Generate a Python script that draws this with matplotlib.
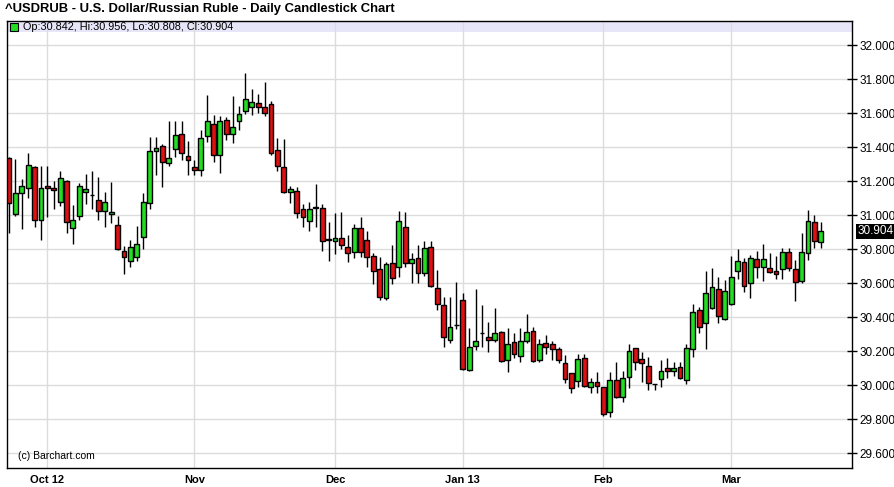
import numpy as np
import matplotlib
matplotlib.use("Agg")
import matplotlib.pyplot as plt
from matplotlib.patches import Rectangle

plt.rcParams['font.family'] = ['Liberation Sans', 'DejaVu Sans']

# DATA (daily OHLC)
opens = [31.334, 31.004, 31.128, 31.157, 31.281, 30.971, 31.169, 31.157, 31.075, 31.198,
         30.922, 30.992, 31.134, 31.118, 31.086, 31.022, 31.006, 30.939, 30.786, 30.729,
         30.755, 30.872, 31.069, 31.376, 31.404, 31.304, 31.386, 31.475, 31.349, 31.284,
         31.265, 31.465, 31.534, 31.353, 31.557, 31.476, 31.555, 31.612, 31.637, 31.657,
         31.637, 31.651, 31.382, 31.284, 31.137, 31.143, 31.034, 30.966, 31.039, 31.039,
         30.853, 30.847, 30.863, 30.814, 30.784, 30.922, 30.853, 30.761, 30.681, 30.514,
         30.716, 30.692, 30.928, 30.716, 30.745, 30.657, 30.810, 30.569, 30.469, 30.265,
         30.351, 30.500, 30.088, 30.229, 30.304, 30.284, 30.265, 30.314, 30.147, 30.255,
         30.171, 30.261, 30.319, 30.147, 30.245, 30.239, 30.210, 30.128, 30.069, 30.024,
         30.157, 29.990, 30.016, 29.986, 29.839, 30.029, 29.931, 30.049, 30.216, 30.151,
         30.112, 30.004, 30.034, 30.098, 30.084, 30.104, 30.029, 30.210, 30.441, 30.367,
         30.451, 30.563, 30.386, 30.475, 30.672, 30.725, 30.598, 30.741, 30.692, 30.690,
         30.671, 30.681, 30.781, 30.681, 30.612, 30.775, 30.961, 30.842]
highs = [31.341, 31.329, 31.210, 31.366, 31.290, 31.288, 31.288, 31.200, 31.257, 31.206,
         31.059, 31.190, 31.241, 31.261, 31.225, 31.137, 31.194, 30.994, 30.818, 30.853,
         30.935, 31.128, 31.461, 31.457, 31.416, 31.553, 31.553, 31.553, 31.435, 31.324,
         31.500, 31.706, 31.588, 31.582, 31.578, 31.700, 31.641, 31.834, 31.739, 31.710,
         31.781, 31.672, 31.451, 31.447, 31.172, 31.166, 31.065, 31.078, 31.182, 31.065,
         30.957, 31.014, 31.016, 30.882, 30.945, 30.986, 30.908, 30.776, 30.755, 30.725,
         30.824, 31.024, 31.019, 30.778, 30.824, 30.847, 30.847, 30.676, 30.519, 30.516,
         30.604, 30.539, 30.334, 30.563, 30.471, 30.369, 30.451, 30.318, 30.337, 30.304,
         30.334, 30.416, 30.343, 30.269, 30.294, 30.261, 30.225, 30.176, 30.071, 30.180,
         30.180, 30.043, 30.078, 29.988, 30.078, 30.137, 30.084, 30.239, 30.218, 30.196,
         30.167, 30.008, 30.147, 30.157, 30.137, 30.133, 30.241, 30.476, 30.457, 30.672,
         30.686, 30.633, 30.618, 30.759, 30.798, 30.749, 30.765, 30.788, 30.829, 30.775,
         30.759, 30.808, 30.804, 30.735, 30.892, 31.029, 31.000, 30.956]
lows = [30.896, 30.994, 30.918, 31.098, 30.928, 30.853, 30.990, 31.035, 31.053, 30.896,
        30.828, 30.971, 31.063, 31.034, 30.971, 30.931, 30.955, 30.794, 30.651, 30.692,
        30.731, 30.798, 31.034, 31.235, 31.166, 31.288, 31.343, 31.324, 31.235, 31.235,
        31.229, 31.431, 31.314, 31.245, 31.441, 31.422, 31.500, 31.594, 31.588, 31.598,
        31.584, 31.353, 31.261, 31.129, 31.072, 30.981, 30.931, 30.908, 30.931, 30.790,
        30.731, 30.771, 30.798, 30.725, 30.745, 30.755, 30.692, 30.592, 30.500, 30.500,
        30.594, 30.637, 30.692, 30.598, 30.602, 30.641, 30.579, 30.441, 30.225, 30.245,
        30.328, 30.088, 30.082, 30.206, 30.225, 30.192, 30.255, 30.135, 30.078, 30.157,
        30.137, 30.249, 30.135, 30.133, 30.182, 30.147, 30.128, 30.014, 29.951, 29.990,
        29.987, 29.951, 29.951, 29.818, 29.810, 29.922, 29.898, 29.981, 30.088, 30.020,
        29.971, 29.971, 29.987, 30.039, 30.053, 30.035, 30.004, 30.166, 30.308, 30.212,
        30.447, 30.367, 30.382, 30.471, 30.624, 30.549, 30.514, 30.631, 30.614, 30.659,
        30.622, 30.622, 30.672, 30.496, 30.602, 30.735, 30.804, 30.808]
closes = [31.069, 31.128, 31.172, 31.292, 30.971, 31.161, 31.157, 31.145, 31.216, 30.957,
          30.971, 31.169, 31.151, 31.120, 31.025, 31.076, 31.018, 30.798, 30.751, 30.810,
          30.828, 31.075, 31.376, 31.396, 31.310, 31.334, 31.469, 31.363, 31.324, 31.265,
          31.451, 31.553, 31.353, 31.553, 31.476, 31.516, 31.594, 31.681, 31.666, 31.637,
          31.598, 31.363, 31.290, 31.137, 31.153, 31.010, 30.986, 31.037, 31.049, 30.847,
          30.861, 30.867, 30.824, 30.775, 30.922, 30.784, 30.751, 30.671, 30.516, 30.714,
          30.631, 30.965, 30.716, 30.739, 30.657, 30.804, 30.582, 30.476, 30.281, 30.339,
          30.353, 30.094, 30.225, 30.261, 30.306, 30.265, 30.308, 30.139, 30.239, 30.182,
          30.261, 30.314, 30.139, 30.241, 30.222, 30.212, 30.147, 30.034, 29.981, 30.151,
          29.996, 30.020, 29.994, 29.828, 30.029, 29.931, 30.039, 30.202, 30.134, 30.128,
          30.010, 30.006, 30.082, 30.084, 30.098, 30.039, 30.216, 30.431, 30.339, 30.539,
          30.575, 30.408, 30.553, 30.633, 30.731, 30.584, 30.749, 30.692, 30.741, 30.663,
          30.653, 30.781, 30.686, 30.604, 30.781, 30.966, 30.847, 30.904]

month_labels = ["Oct 12", "Nov", "Dec", "Jan 13", "Feb", "Mar"]
month_index = [6, 29, 51, 71, 93, 113]   # first trading day of each month
price_ticks = [29.6, 29.8, 30.0, 30.2, 30.4, 30.6, 30.8, 31.0, 31.2, 31.4, 31.6, 31.8, 32.0]

title = "^USDRUB - U.S. Dollar/Russian Ruble - Daily Candlestick Chart"

GREEN = "#22dd22"
RED = "#dd1111"

o = np.array(opens)
h = np.array(highs)
l = np.array(lows)
c = np.array(closes)
x = np.arange(len(o))

fig = plt.figure(figsize=(8.95, 4.87), dpi=100)
ax = fig.add_axes([7/895, 19/487, 845/895, 447/487])

# grid
ax.set_yticks(price_ticks)
ax.set_xticks(month_index)
ax.grid(True, color="#dcdcdc", linewidth=1)
ax.set_axisbelow(True)

# candles
up = c >= o
ax.vlines(x, l, h, color="black", linewidth=1, zorder=3)
body_low = np.minimum(o, c)
body_h = np.maximum(np.abs(c - o), 0.001)
ax.bar(x, body_h, bottom=body_low, width=0.75,
       color=np.where(up, GREEN, RED), edgecolor="black", linewidth=1, zorder=4)

ax.set_xlim(-0.31, 131.9)
ax.set_ylim(29.5118, 32.1412)

# right axis
ax.yaxis.tick_right()
ax.set_yticklabels(["%.3f" % t for t in price_ticks])
ax.tick_params(axis="y", direction="inout", length=7, width=1, labelsize=8.5, pad=2)
ax.set_xticklabels(month_labels, fontweight="bold")
ax.tick_params(axis="x", length=0, labelsize=8, pad=5)
for s in ax.spines.values():
    s.set_color("black")
    s.set_linewidth(1)

# legend band at the top of the plot
band_h = 11/447
ax.add_patch(Rectangle((0, 1 - band_h), 1, band_h, transform=ax.transAxes,
                       facecolor="#e6e6f8", edgecolor="none", zorder=0.5))
ax.plot([0.0078], [1 - band_h/2], marker="s", markersize=6, markerfacecolor=GREEN,
        markeredgecolor="black", markeredgewidth=0.8, transform=ax.transAxes, zorder=6)
ax.text(0.019, 1 - band_h/2, "Op:%.3f, Hi:%.3f, Lo:%.3f, Cl:%.3f" % (o[-1], h[-1], l[-1], c[-1]),
        transform=ax.transAxes, fontsize=7.8, va="center", ha="left", zorder=6)

# last close label
ax.text(1.006, c[-1], "%.3f" % c[-1], transform=ax.get_yaxis_transform(),
        fontsize=8.5, color="white", va="center", ha="left",
        bbox=dict(facecolor="black", edgecolor="none", pad=1.0))

ax.text(0.013, 0.027, "(c) Barchart.com", transform=ax.transAxes, fontsize=7.5,
        va="center", ha="left")

fig.text(5/895, 1 - 9/487, title, fontsize=9.4, fontweight="bold", va="center", ha="left")

fig.savefig("out.png", dpi=100)
